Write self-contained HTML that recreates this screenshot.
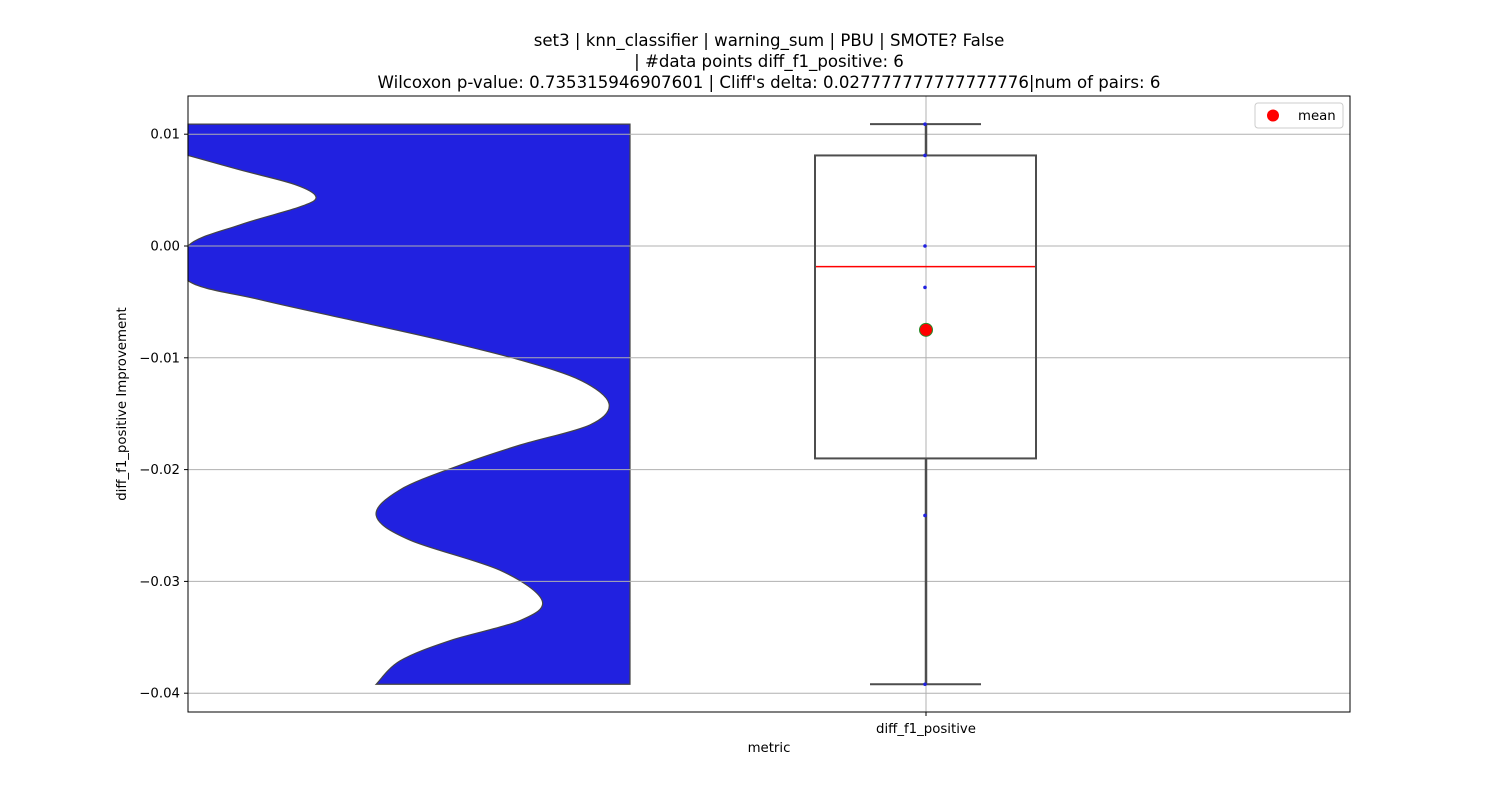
<!DOCTYPE html>
<html><head><meta charset="utf-8"><style>
body{margin:0;background:#fff;}
svg text{font-family:"DejaVu Sans","Liberation Sans",sans-serif;fill:#000;}
</style></head><body>
<svg width="1500" height="800" viewBox="0 0 1500 800">
<g id="g"></g>
</svg>
<script>
const values=[0.0109,0.0081,0.0,-0.0037,-0.0241,-0.0392];
const boxStats=[-0.0392,-0.0190,-0.00185,0.0081,0.0109]; // whisker lo, q1, median, q3, whisker hi
const meanVal=[-0.0075];
const yTicks=[0.01,0.0,-0.01,-0.02,-0.03,-0.04];
const yTickLabels=["0.01","0.00","\u22120.01","\u22120.02","\u22120.03","\u22120.04"];
const kdeY=[0.0081,0.0068,0.0055,0.0044,0.0035,0.0019,0.0,-0.0031,-0.0048,-0.0066,-0.0084,-0.0102,-0.0120,-0.0141,-0.0160,-0.0178,-0.0196,-0.0218,-0.0241,-0.0263,-0.0290,-0.0317,-0.0335,-0.0353,-0.0371,-0.0392];
const kdeD=[0,0.124,0.254,0.304,0.266,0.124,0,0,0.171,0.385,0.599,0.789,0.932,1.0,0.955,0.789,0.646,0.504,0.447,0.527,0.741,0.841,0.789,0.622,0.504,0.447];
const L=188,R=1350,T=96,B=712;
const y=v=>246-v*11180;
const dx=d=>188+d*421;
const ns="http://www.w3.org/2000/svg";
const gRoot=document.getElementById('g');
function el(t,a,txt){const e=document.createElementNS(ns,t);for(const k in a)e.setAttribute(k,a[k]);if(txt!=null)e.textContent=txt;gRoot.appendChild(e);return e;}
// violin
const pts=kdeY.map((v,i)=>[dx(kdeD[i]),y(v)]);
function spline(p){let s='';for(let i=0;i<p.length-1;i++){const p0=p[i-1]||p[i],p1=p[i],p2=p[i+1],p3=p[i+2]||p2;
let c1=[p1[0]+(p2[0]-p0[0])/6,p1[1]+(p2[1]-p0[1])/6],c2=[p2[0]-(p3[0]-p1[0])/6,p2[1]-(p3[1]-p1[1])/6];
if(p1[0]<=L+0.5&&p2[0]<=L+0.5){c1[0]=L;c2[0]=L;}
c1[0]=Math.max(L,c1[0]);c2[0]=Math.max(L,c2[0]);
s+=` C${c1[0]},${c1[1]} ${c2[0]},${c2[1]} ${p2[0]},${p2[1]}`;}return s;}
const yTopV=y(boxStats[4]),yBotV=y(boxStats[0]);
const rev=pts.slice().reverse();
let dPath=`M${L},${yTopV} L630,${yTopV} L630,${yBotV} L${rev[0][0]},${rev[0][1]}`+spline(rev)+` L${L},${yTopV} Z`;
let vio=el('path',{d:dPath,fill:'#2121e0',stroke:'#444',"stroke-width":1.2});


// grid
yTicks.forEach((t,i)=>{
 const gl=el('line',{x1:L,x2:R,y1:y(t),y2:y(t),stroke:'#b0b0b0','stroke-width':1});
 
 
 el('line',{x1:L-4,x2:L,y1:y(t),y2:y(t),stroke:'#000'});
 const tl=el('text',{x:L-8,y:y(t)+4.5,'text-anchor':'end','font-size':13.3},yTickLabels[i]);
 
 
});
el('line',{x1:926,x2:926,y1:T,y2:B,stroke:'#b0b0b0'});
// box
const cx=926,st='#4d4d4d';
el('line',{x1:cx,x2:cx,y1:y(boxStats[0]),y2:y(boxStats[1]),stroke:st,'stroke-width':2.5});
el('line',{x1:cx,x2:cx,y1:y(boxStats[3]),y2:y(boxStats[4]),stroke:st,'stroke-width':2.5});
el('line',{x1:870,x2:981,y1:y(boxStats[0]),y2:y(boxStats[0]),stroke:st,'stroke-width':2});
el('line',{x1:870,x2:981,y1:y(boxStats[4]),y2:y(boxStats[4]),stroke:st,'stroke-width':2});
const bx=el('rect',{x:815,y:y(boxStats[3]),width:221,height:y(boxStats[1])-y(boxStats[3]),fill:'none',stroke:st,'stroke-width':2});


const md=el('line',{x1:816,x2:1035,y1:y(boxStats[2]),y2:y(boxStats[2]),stroke:'#ff0000','stroke-width':1.5});


values.forEach(val=>{const c=el('circle',{cx:925,cy:y(val),r:1.8,fill:'#2121e0'});

});
const mc=el('circle',{cx:926,cy:y(meanVal[0]),r:6.5,fill:'#ff0000',stroke:'#2a8a2a','stroke-width':1});


// axes frame
el('rect',{x:L,y:T,width:R-L,height:B-T,fill:'none',stroke:'#000','stroke-width':1});
el('line',{x1:926,x2:926,y1:B,y2:B+4,stroke:'#000'});
const xl=el('text',{x:926,y:733,'text-anchor':'middle','font-size':13.3},'diff_f1_positive');


const xt=el('text',{x:769,y:752,'text-anchor':'middle','font-size':13.3},'metric');


const yt=el('text',{x:126,y:404,'text-anchor':'middle','font-size':13.3,transform:'rotate(-90 126 404)'},'diff_f1_positive Improvement');


const titles=["set3 | knn_classifier | warning_sum | PBU | SMOTE? False","| #data points diff_f1_positive: 6","Wilcoxon p-value: 0.735315946907601 | Cliff's delta: 0.027777777777777776|num of pairs: 6"];
titles.forEach((t,i)=>{const e=el('text',{x:769,y:46+i*21,'text-anchor':'middle','font-size':16.6},t);

});
// legend
const lg=el('rect',{x:1255,y:103,width:88,height:25,rx:3,fill:'#fff',stroke:'#ccc'});


el('circle',{cx:1273,cy:115.5,r:6,fill:'#ff0000'});
const le=el('text',{x:1298,y:120,'font-size':13.3},'mean');


</script>
</body></html>
